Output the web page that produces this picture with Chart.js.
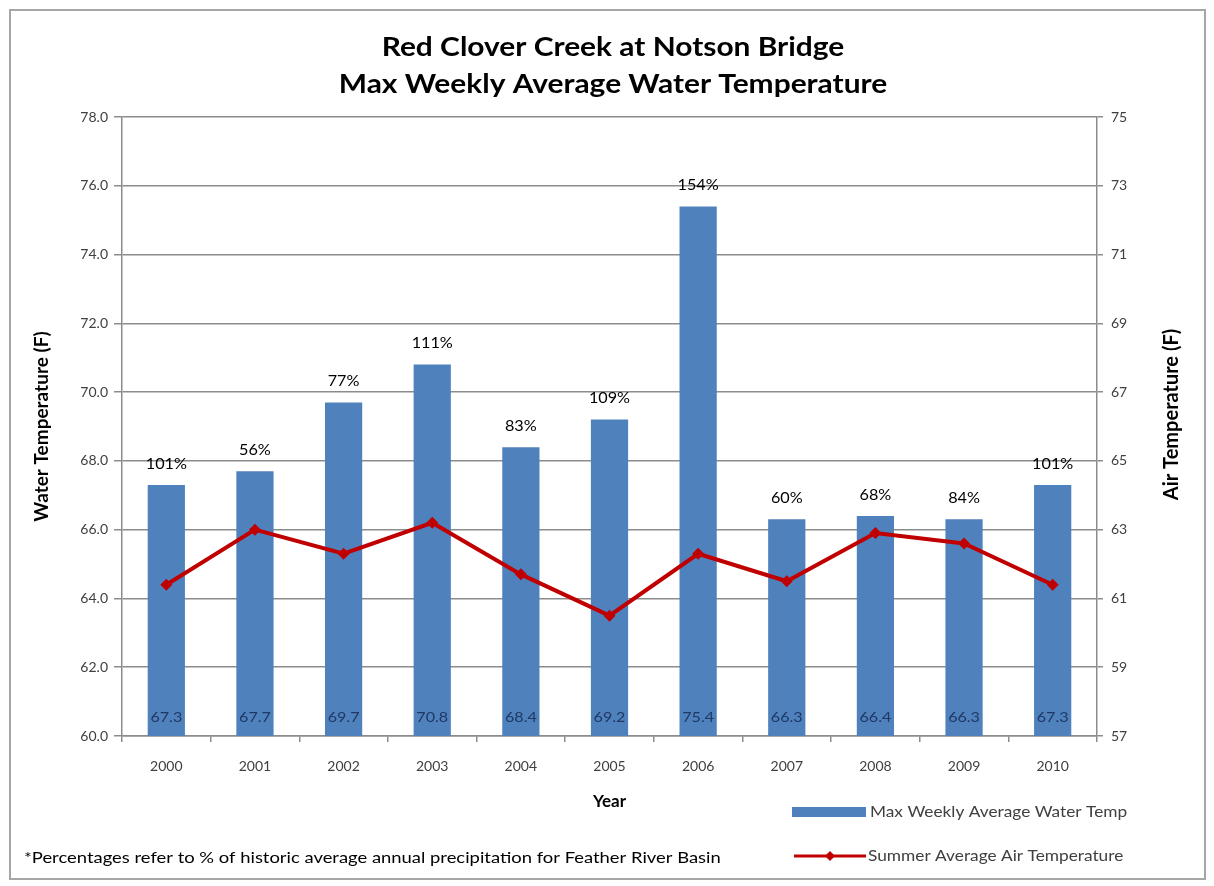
<!DOCTYPE html>
<html>
<head>
<meta charset="utf-8">
<title>Red Clover Creek at Notson Bridge</title>
<script src="https://cdn.jsdelivr.net/npm/chart.js@4.4.1/dist/chart.umd.min.js"></script>
<style>
  html, body { margin: 0; padding: 0; background: #fff; }
  #wrap { position: relative; width: 1214px; height: 886px; }
  #frame {
    position: absolute; left: 9px; top: 9px; width: 1197px; height: 871px;
    border: 2px solid #a6a6a6; box-sizing: border-box;
  }
  canvas { position: absolute; left: 0; top: 0; }
</style>
</head>
<body>
<div id="wrap">
  <div id="frame"></div>
  <canvas id="chart" width="1214" height="886"></canvas>
</div>
<script>
/* ── Data ─────────────────────────────────────── */
const years      = ['2000', '2001', '2002', '2003', '2004', '2005', '2006', '2007', '2008', '2009', '2010'];
const waterTemp  = [67.3, 67.7, 69.7, 70.8, 68.4, 69.2, 75.4, 66.3, 66.4, 66.3, 67.3];
const airTemp    = [61.4, 63.0, 62.3, 63.2, 61.7, 60.5, 62.3, 61.5, 62.9, 62.6, 61.4];
const precipPct  = ['101%', '56%', '77%', '111%', '83%', '109%', '154%', '60%', '68%', '84%', '101%'];
const titleLines = ['Red Clover Creek at Notson Bridge', 'Max Weekly Average Water Temperature'];
const footnote   = '*Percentages refer to % of historic average annual precipitation for Feather River Basin';

/* ── Styles ───────────────────────────────────── */
const FONT    = 'Lato, "Open Sans", sans-serif';
const C_BAR   = '#4f81bd';
const C_LINE  = '#c00000';
const C_GRID  = '#8c8c8c';
const C_TICK  = '#404040';
const C_VAL   = '#1f3864';
const STRETCH = 1.15;   // source chart text is wide (stretched Calibri)

// text drawn a little wider than the font, like the original
function wideText(ctx, text, x, y, sx, align) {
  ctx.save();
  ctx.translate(x, y);
  ctx.scale(sx, 1);
  ctx.textAlign = align || 'left';
  ctx.fillText(text, 0, 0);
  ctx.restore();
}

/* ── Title, labels, legend, right axis title ──── */
const extras = {
  id: 'extras',
  afterDatasetsDraw(chart) {
    const { ctx, chartArea } = chart;
    const bars = chart.getDatasetMeta(0).data;
    ctx.save();
    ctx.textBaseline = 'middle';
    bars.forEach((bar, i) => {
      ctx.font = '14px ' + FONT;
      ctx.fillStyle = C_VAL;
      wideText(ctx, waterTemp[i].toFixed(1), bar.x, chartArea.bottom - 19, STRETCH, 'center');
      ctx.font = '15px ' + FONT;
      ctx.fillStyle = '#000';
      wideText(ctx, precipPct[i], bar.x, bar.y - 21, 1.08, 'center');
    });
    ctx.restore();
  },
  afterDraw(chart) {
    const { ctx, chartArea } = chart;
    const ds = chart.data.datasets;
    ctx.save();
    ctx.textBaseline = 'middle';

    // title
    ctx.font = 'bold 26px ' + FONT;
    ctx.fillStyle = '#000';
    titleLines.forEach((t, i) => wideText(ctx, t, 613, 48 + i * 37, STRETCH, 'center'));

    // right axis title, reads bottom to top
    ctx.save();
    ctx.translate(1172, (chartArea.top + chartArea.bottom) / 2 - 12);
    ctx.rotate(-Math.PI / 2);
    ctx.font = 'bold 20px ' + FONT;
    ctx.textAlign = 'center';
    ctx.fillText('Air Temperature (F)', 0, 0);
    ctx.restore();

    // legend
    ctx.font = '16px ' + FONT;
    ctx.fillStyle = ds[0].backgroundColor;
    ctx.fillRect(792, 807, 74, 10);
    ctx.fillStyle = C_TICK;
    wideText(ctx, ds[0].label, 870, 812, 1.08);

    ctx.strokeStyle = ds[1].borderColor;
    ctx.lineWidth = 3;
    ctx.beginPath();
    ctx.moveTo(794, 856);
    ctx.lineTo(866, 856);
    ctx.stroke();
    ctx.fillStyle = ds[1].borderColor;
    ctx.beginPath();
    ctx.moveTo(830, 851); ctx.lineTo(835, 856); ctx.lineTo(830, 861); ctx.lineTo(825, 856);
    ctx.closePath();
    ctx.fill();
    ctx.fillStyle = C_TICK;
    wideText(ctx, ds[1].label, 868, 856, 1.08);

    // footnote
    ctx.font = '16px ' + FONT;
    ctx.fillStyle = '#000';
    wideText(ctx, footnote, 24, 858, STRETCH);
    ctx.restore();
  },
};

/* ── Chart ────────────────────────────────────── */
new Chart(document.getElementById('chart').getContext('2d'), {
  type: 'bar',
  data: {
    labels: years,
    datasets: [
      {
        type: 'bar',
        label: 'Max Weekly Average Water Temp',
        data: waterTemp,
        backgroundColor: C_BAR,
        borderWidth: 0,
        barPercentage: 0.84,
        categoryPercentage: 0.5,
        yAxisID: 'y',
        order: 1,
      },
      {
        type: 'line',
        label: 'Summer Average Air Temperature',
        data: airTemp,
        borderColor: C_LINE,
        backgroundColor: C_LINE,
        borderWidth: 4,
        pointStyle: 'rectRot',
        pointRadius: 6,
        pointBackgroundColor: C_LINE,
        pointBorderWidth: 0,
        tension: 0,
        yAxisID: 'y1',
        order: 0,
      },
    ],
  },
  options: {
    responsive: false,
    animation: false,
    layout: { padding: { top: 117 } },
    plugins: {
      legend: { display: false },
      tooltip: { enabled: false },
      title: { display: false },
    },
    scales: {
      x: {
        offset: true,
        grid: { display: true, drawOnChartArea: false, offset: true, color: C_GRID, tickLength: 6, lineWidth: 1.5 },
        border: { color: C_GRID, width: 1.5 },
        ticks: { color: C_TICK, font: { family: FONT, size: 14 }, padding: 16 },
        title: {
          display: true, text: 'Year', color: '#000',
          font: { family: FONT, size: 17, weight: 'bold' },
          padding: { top: 0, bottom: 74 },
        },
        afterFit: s => { s.height = 150; },
      },
      y: {
        position: 'left',
        min: 60, max: 78,
        grid: { color: C_GRID, lineWidth: 1.5, tickLength: 8 },
        border: { color: C_GRID, width: 1.5 },
        ticks: { stepSize: 2, color: C_TICK, font: { family: FONT, size: 14 }, padding: 6, callback: v => v.toFixed(1) },
        title: {
          display: true, text: 'Water Temperature (F)', color: '#000',
          font: { family: FONT, size: 19, weight: 'bold' },
          padding: { top: 30, bottom: 0 },
        },
        afterFit: s => { s.width = 122; },
      },
      y1: {
        position: 'right',
        min: 57, max: 75,
        grid: { drawOnChartArea: false, color: C_GRID, lineWidth: 1.5, tickLength: 6 },
        border: { color: C_GRID, width: 1.5 },
        ticks: { stepSize: 2, color: C_TICK, font: { family: FONT, size: 14 }, padding: 8 },
        afterFit: s => { s.width = 1214 - 1097; },
      },
    },
  },
  plugins: [extras],
});
</script>
</body>
</html>
